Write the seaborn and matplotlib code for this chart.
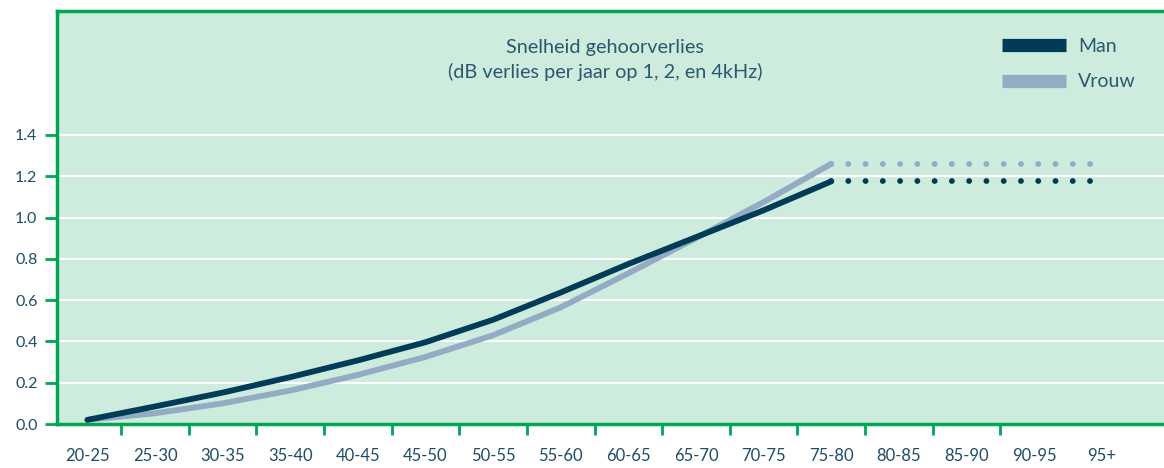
import matplotlib
matplotlib.use("Agg")
import matplotlib.pyplot as plt
import seaborn as sns
import pandas as pd
from matplotlib.lines import Line2D

categories = ["20-25", "25-30", "30-35", "35-40", "40-45", "45-50", "50-55", "55-60",
              "60-65", "65-70", "70-75", "75-80", "80-85", "85-90", "90-95", "95+"]
man = [0.02, 0.085, 0.152, 0.227, 0.308, 0.396, 0.505, 0.637, 0.775, 0.905, 1.035, 1.175]
vrouw = [0.02, 0.052, 0.10, 0.162, 0.238, 0.325, 0.43, 0.565, 0.73, 0.90, 1.075, 1.26]
ext_categories = ["75-80", "80-85", "85-90", "90-95", "95+"]
man_ext = [1.175, 1.175, 1.175, 1.175, 1.175]
vrouw_ext = [1.26, 1.26, 1.26, 1.26, 1.26]
yticks = [0.0, 0.2, 0.4, 0.6, 0.8, 1.0, 1.2, 1.4]

BG = "#CDECDD"
GREEN = "#00A651"
DARK = "#003B57"
LIGHT = "#94ABC4"
TXT = "#1F4C65"

sns.set_theme(style="white")
plt.rcParams["font.family"] = ["Lato", "DejaVu Sans"]

fig = plt.figure(figsize=(11.64, 4.68), dpi=100)
ax = fig.add_axes([57 / 1164, 1 - 424 / 468, 1 - 57 / 1164, (424 - 11) / 468])
ax.set_facecolor(BG)

pos = {c: i for i, c in enumerate(categories)}
df_main = pd.DataFrame({
    "x": [pos[c] for c in categories[:len(man)]] * 2,
    "y": man + vrouw,
    "g": ["Man"] * len(man) + ["Vrouw"] * len(vrouw),
})
df_ext = pd.DataFrame({
    "x": [pos[c] for c in ext_categories] * 2,
    "y": man_ext + vrouw_ext,
    "g": ["Man"] * len(man_ext) + ["Vrouw"] * len(vrouw_ext),
})

LW = 4.2
for g, col in (("Vrouw", LIGHT), ("Man", DARK)):
    sns.lineplot(data=df_main[df_main.g == g], x="x", y="y", color=col, lw=LW,
                 ax=ax, solid_capstyle="round", solid_joinstyle="round",
                 legend=False, zorder=3)
    sns.lineplot(data=df_ext[df_ext.g == g], x="x", y="y", color=col, lw=LW,
                 ax=ax, linestyle=(0, (0.01, 2.95)), dash_capstyle="round",
                 legend=False, zorder=3)

ax.set_xlim(-0.45, 15.92)
ax.set_ylim(0, 2.0)
ax.set_yticks(yticks)
ax.set_yticklabels([f"{v:.1f}" for v in yticks])
ax.set_xticks(range(len(categories)))
ax.set_xticklabels(categories)
ax.set_xticks([i + 0.5 for i in range(len(categories) - 2)], minor=True)
ax.tick_params(axis="x", which="major", length=0, pad=17, labelsize=12, labelcolor=TXT)
ax.tick_params(axis="x", which="minor", length=8, width=2, color=GREEN, direction="out", bottom=True)
ax.tick_params(axis="y", length=9, width=2, color=GREEN, direction="out", left=True,
               pad=5, labelsize=11.5, labelcolor=TXT)
ax.grid(axis="y", color="white", lw=1.5, zorder=1)
ax.grid(axis="x", visible=False)
ax.set_axisbelow(True)
ax.set_xlabel("")
ax.set_ylabel("")

for s in ("left", "bottom", "top"):
    ax.spines[s].set_color(GREEN)
    ax.spines[s].set_linewidth(2.5)
ax.spines["right"].set_visible(False)

fig.text(605 / 1164, 1 - 60 / 468, "Snelheid gehoorverlies\n(dB verlies per jaar op 1, 2, en 4kHz)",
         ha="center", va="center", fontsize=14.3, color="#2A586E", linespacing=1.4)

handles = [Line2D([], [], color=DARK, lw=9.5, solid_capstyle="butt"),
           Line2D([], [], color=LIGHT, lw=9.5, solid_capstyle="butt")]
fig.legend(handles, ["Man", "Vrouw"], loc="upper left",
           bbox_to_anchor=(1002 / 1164, 1 - 38 / 468), frameon=False,
           fontsize=14, handlelength=3.3, handletextpad=0.6, labelspacing=0.95,
           borderpad=0, borderaxespad=0, labelcolor="#2A586E")

fig.savefig("out.png", dpi=100, facecolor="white")
